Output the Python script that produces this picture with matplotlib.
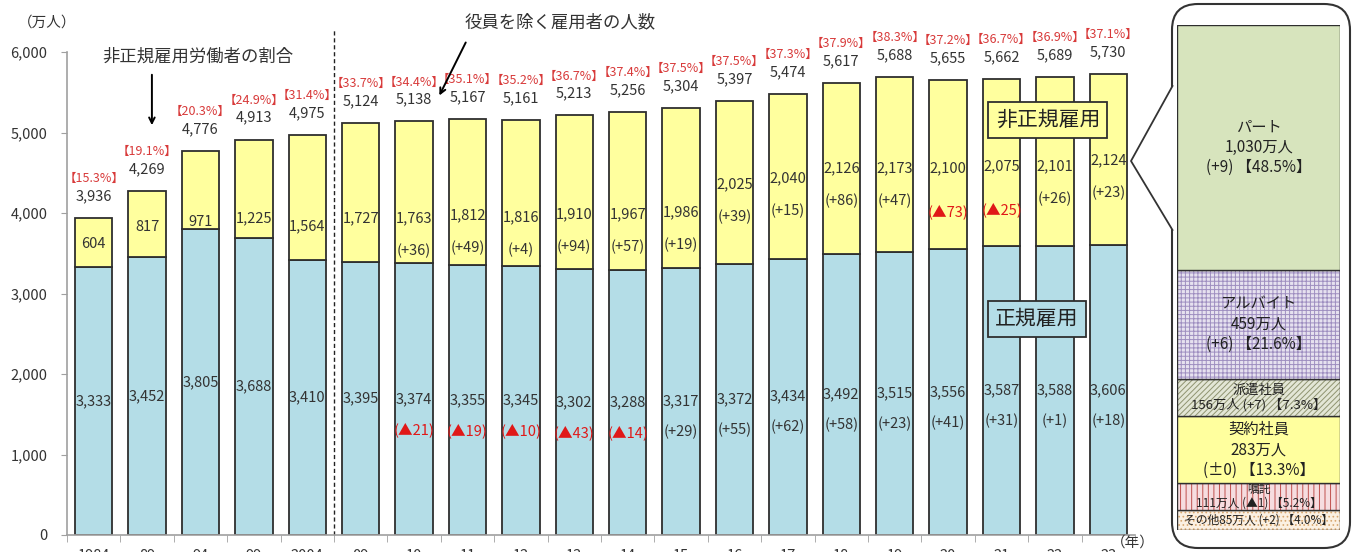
import matplotlib
matplotlib.use('Agg')
import matplotlib.pyplot as plt
from matplotlib.patches import FancyBboxPatch, Polygon

plt.rcParams['font.family'] = ['Noto Sans CJK JP', 'DejaVu Sans']
plt.rcParams['hatch.linewidth'] = 0.7

# ---- data ----
years = ['1984', '89', '94', '99', '2004', '09', '10', '11', '12', '13', '14',
         '15', '16', '17', '18', '19', '20', '21', '22', '23']
regular = [3333, 3452, 3805, 3688, 3410, 3395, 3374, 3355, 3345, 3302, 3288,
           3317, 3372, 3434, 3492, 3515, 3556, 3587, 3588, 3606]
nonregular = [604, 817, 971, 1225, 1564, 1727, 1763, 1812, 1816, 1910, 1967,
              1986, 2025, 2040, 2126, 2173, 2100, 2075, 2101, 2124]
totals = [3936, 4269, 4776, 4913, 4975, 5124, 5138, 5167, 5161, 5213, 5256,
          5304, 5397, 5474, 5617, 5688, 5655, 5662, 5689, 5730]
nonreg_share = [15.3, 19.1, 20.3, 24.9, 31.4, 33.7, 34.4, 35.1, 35.2, 36.7,
                37.4, 37.5, 37.5, 37.3, 37.9, 38.3, 37.2, 36.7, 36.9, 37.1]
# year-on-year change (None = not shown)
regular_chg = [None] * 6 + [-21, -19, -10, -43, -14, 29, 55, 62, 58, 23, 41,
                            31, 1, 18]
nonreg_chg = [None] * 6 + [36, 49, 4, 94, 57, 19, 39, 15, 86, 47, -73, -25,
                           26, 23]

# breakdown of non-regular workers in latest year (bottom -> top)
kinds = ['その他', '嘱託', '契約社員', '派遣社員', 'アルバイト', 'パート']
kind_vals = [85, 111, 283, 156, 459, 1030]
kind_chg = [2, -1, 0, 7, 6, 9]
kind_pct = [4.0, 5.2, 13.3, 7.3, 21.6, 48.5]

# ---- layout / style ----
nonreg_label_y = [3615, 3826, 3888, 3938, 3838, 3938, 3938, 3975, 3950, 3988,
                  3988, 4012, 4360, 4435, 4559, 4559, 4559, 4584, 4584, 4658]
BLUE = '#B4DDE7'
YELLOW = '#FFFF9E'
EDGE = '#2E2E2E'
RED = '#E01818'
PCT_RED = '#D83A3A'
TXT = '#333333'


def fmt_chg(v):
    if v == 0:
        return '±0'
    if v < 0:
        return '▲%d' % (-v)
    return '+%d' % v


fig = plt.figure(figsize=(13.54, 5.52), dpi=100)

# overlay in pixel coords for the callout frame
ov = fig.add_axes([0, 0, 1, 1])
ov.set_xlim(0, 1354)
ov.set_ylim(552, 0)
ov.axis('off')
ov.patch.set_alpha(0)
ov.add_patch(FancyBboxPatch((1172, 4), 178, 544,
                            boxstyle='round,pad=0,rounding_size=26',
                            fc='white', ec='#333333', lw=1.5))
ov.add_patch(Polygon([(1174, 84), (1131, 161), (1174, 232)], closed=True,
                     fc='white', ec='none'))
ov.plot([1172.5, 1131, 1172.5], [86, 161, 230], color='#333333', lw=1.3)

# ---- main chart ----
ax = fig.add_axes([67 / 1354, 17 / 552, 1068 / 1354, 483 / 552])
ax.patch.set_alpha(0)
x = list(range(len(years)))
ax.bar(x, regular, width=0.7, color=BLUE, edgecolor=EDGE, lw=1.3, zorder=2)
ax.bar(x, nonregular, width=0.7, bottom=regular, color=YELLOW,
       edgecolor=EDGE, lw=1.3, zorder=2)

ax.set_xlim(-0.5, len(years) - 0.5)
ax.set_ylim(0, 6000)
ax.set_yticks(range(0, 6001, 1000))
ax.set_yticklabels(['{:,}'.format(v) for v in range(0, 6001, 1000)],
                   fontsize=10.5, color=TXT)
ax.set_xticks(x)
ax.set_xticklabels(years, fontsize=10.5, color=TXT)
ax.set_xticks([i - 0.5 for i in range(len(years) + 1)], minor=True)
ax.tick_params(axis='x', which='major', length=0, pad=10)
ax.tick_params(axis='x', which='minor', length=5, color='#A0A0A0')
ax.tick_params(axis='y', length=4, color='#A0A0A0', pad=10)
for s in ['top', 'right']:
    ax.spines[s].set_visible(False)
for s in ['left', 'bottom']:
    ax.spines[s].set_color('#A0A0A0')
    ax.spines[s].set_linewidth(1.2)

for i in x:
    top = regular[i] + nonregular[i]
    ax.text(i, top + 270, '{:,}'.format(totals[i]), ha='center', va='center',
            fontsize=10.5, color=TXT, clip_on=False)
    ax.text(i, top + 490, '【%.1f%%】' % nonreg_share[i], ha='center',
            va='center', fontsize=9, color=PCT_RED, clip_on=False)
    ax.text(i, regular[i] / 2, '{:,}'.format(regular[i]), ha='center',
            va='center', fontsize=10.5, color=TXT, zorder=3)
    ax.text(i, nonreg_label_y[i], '{:,}'.format(nonregular[i]), ha='center',
            va='center', fontsize=10.5, color=TXT, zorder=3)
    if regular_chg[i] is not None:
        c = regular_chg[i]
        ax.text(i, regular[i] / 2 - 380, '(%s)' % fmt_chg(c), ha='center',
                va='center', fontsize=10.5, color=RED if c < 0 else TXT,
                zorder=3)
    if nonreg_chg[i] is not None:
        c = nonreg_chg[i]
        off = 540 if c < 0 else 410
        ax.text(i, nonreg_label_y[i] - off, '(%s)' % fmt_chg(c), ha='center',
                va='center', fontsize=10.5, color=RED if c < 0 else TXT,
                zorder=3)

ax.axvline(4.5, ymin=0, ymax=1.045, color='#222222', lw=1, ls=(0, (3, 2)),
           clip_on=False, zorder=1)

ax.text(-0.88, 6370, '（万人）', ha='center', va='center', fontsize=10.5,
        color=TXT, clip_on=False)
ax.text(19.45, -90, '（年）', ha='center', va='center', fontsize=10.5,
        color=TXT, clip_on=False)

ax.text(1.95, 5938, '非正規雇用労働者の割合', ha='center', va='center',
        fontsize=12.5, color=TXT)
ax.annotate('', xy=(1.09, 5056), xytext=(1.09, 5752),
            arrowprops=dict(arrowstyle='->', color='black', lw=1.4))
ax.text(8.73, 6373, '役員を除く雇用者の人数', ha='center', va='center',
        fontsize=12.5, color=TXT, clip_on=False)
ax.annotate('', xy=(6.45, 5429), xytext=(6.99, 6149),
            arrowprops=dict(arrowstyle='->', color='black', lw=1.4),
            annotation_clip=False)

ax.text(17.87, 5155, '非正規雇用', ha='center', va='center', fontsize=15,
        color='#222222', zorder=4,
        bbox=dict(boxstyle='square,pad=0.35', fc=YELLOW, ec=EDGE, lw=1.3))
ax.text(17.66, 2683, '正規雇用', ha='center', va='center', fontsize=15,
        color='#222222', zorder=4,
        bbox=dict(boxstyle='square,pad=0.35', fc=BLUE, ec=EDGE, lw=1.3))

# ---- breakdown panel ----
ax2 = fig.add_axes([1177 / 1354, 22 / 552, 163 / 1354, 505 / 552])
ax2.set_xlim(0, 1)
ax2.set_ylim(0, sum(kind_vals))
ax2.axis('off')

faces = ['#FBF0E2', '#F6DDE0', '#FFFF9E', '#E3E6D6', '#E6E1EF', '#D7E4BD']
hatches = ['....', '|||', None, '//////', '++++', None]
hcolors = ['#D9A870', '#C0504D', None, '#8F9470', '#9E8EC0', None]
fsizes = [8.5, 8.5, 11, 9.5, 11, 11]

bottom = 0
for k in range(len(kinds)):
    v = kind_vals[k]
    ax2.bar(0.5, v, width=1, bottom=bottom, color=faces[k], lw=0)
    if hatches[k]:
        ax2.bar(0.5, v, width=1, bottom=bottom, fill=False, hatch=hatches[k],
                edgecolor=hcolors[k], lw=0)
    ax2.bar(0.5, v, width=1, bottom=bottom, fill=False, edgecolor=EDGE, lw=1)
    chg = fmt_chg(kind_chg[k])
    if kinds[k] == 'その他':
        label = '%s%d万人 (%s) 【%.1f%%】' % (kinds[k], v, chg, kind_pct[k])
        ls = 1.0
    elif v < 200:
        label = '%s\n{:,}万人 (%s) 【%.1f%%】'.format(v) % (kinds[k], chg,
                                                        kind_pct[k])
        ls = 1.05
    else:
        label = '%s\n{:,}万人\n(%s) 【%.1f%%】'.format(v) % (kinds[k], chg,
                                                         kind_pct[k])
        ls = 1.25
    ax2.text(0.5, bottom + v / 2, label, ha='center', va='center',
             fontsize=fsizes[k], color='#222222', linespacing=ls)
    bottom += v

fig.savefig('out.png', dpi=100)
